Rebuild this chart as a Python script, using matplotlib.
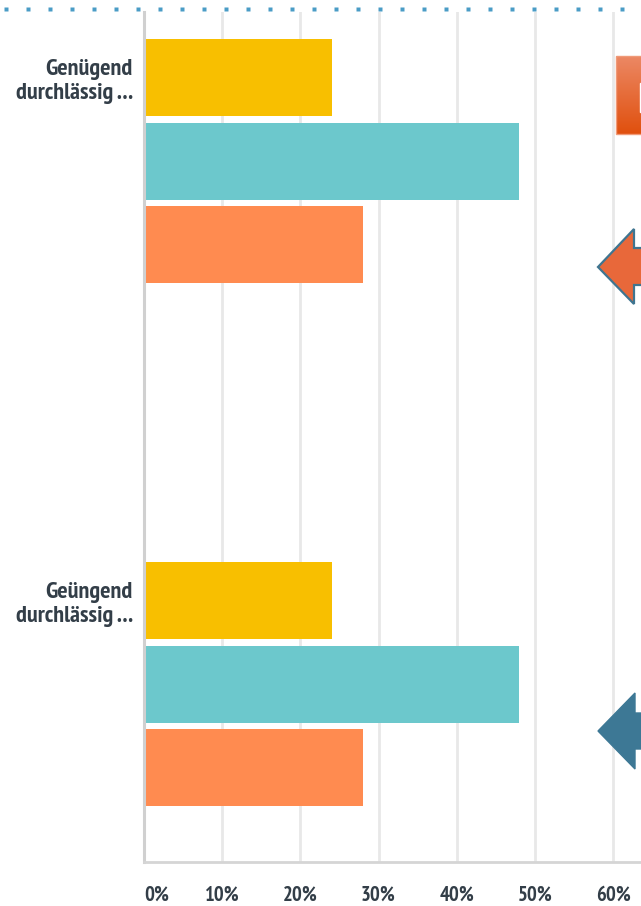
import numpy as np
import matplotlib
matplotlib.use("Agg")
import matplotlib.pyplot as plt
from matplotlib import font_manager
from matplotlib.patches import Polygon, Rectangle

# data
categories = ["Genügend\ndurchlässig ...", "Geüngend\ndurchlässig ..."]
yellow_vals = [24, 24]
teal_vals = [48, 48]
orange_vals = [28, 28]
tick_values = [0, 10, 20, 30, 40, 50, 60]
tick_labels = ["0%", "10%", "20%", "30%", "40%", "50%", "60%"]

series_colors = ["#F8BF00", "#6CC8CC", "#FF8B50"]
text_color = "#333E48"

# look for a narrow bold face, the original uses a condensed font
fonts = font_manager.fontManager.ttflist
bold = [f for f in fonts if f.weight in ("bold", 700)]
narrow = [f for f in bold if "Narrow" in f.name or "Narrow" in f.fname]
narrow += [f for f in bold if "Condensed" in f.name or "Condensed" in f.fname
           or f.stretch in ("condensed", "semi-condensed")]
if narrow:
    font = dict(family=[narrow[0].name, "DejaVu Sans"], stretch=narrow[0].stretch)
else:
    font = dict(family=["Liberation Sans", "DejaVu Sans"])

W, H = 641, 906
fig = plt.figure(figsize=(W / 100, H / 100), dpi=100)
fig.patch.set_facecolor("white")

ax = fig.add_axes([144 / W, (H - 862) / H, (W - 144) / W, 850 / H])

step = 0.16
bar_h = 0.147
pos = np.arange(len(categories))
for k, (vals, col) in enumerate(zip([yellow_vals, teal_vals, orange_vals], series_colors)):
    ax.barh(pos + k * step, vals, height=bar_h, color=col, zorder=2)

ax.set_xlim(0, 63.58)
ax.set_ylim(1.5, -0.125)
ax.set_xticks(tick_values)
ax.set_xticklabels(tick_labels, fontsize=15, fontweight="bold", color=text_color, **font)
ax.xaxis.get_majorticklabels()[0].set_ha("left")
ax.set_yticks(pos)
ax.set_yticklabels(categories, fontsize=15, fontweight="bold", color=text_color,
                   linespacing=1.2, **font)
ax.tick_params(axis="both", length=0)
ax.tick_params(axis="x", pad=17)
ax.tick_params(axis="y", pad=8)

# size the text so it is about as wide as in the original
fig.canvas.draw()
r = fig.canvas.get_renderer()
lab_w = max(t.get_window_extent(r).width for t in ax.get_yticklabels())
tick_w = ax.get_xticklabels()[1].get_window_extent(r).width
lab_size = min(18, 15 * 117 / lab_w)
tick_size = min(16, 15 * 35 / tick_w)
for t in ax.get_yticklabels():
    t.set_fontsize(lab_size)
for t in ax.get_xticklabels():
    t.set_fontsize(tick_size)

ax.grid(axis="x", color="#E8E8E8", linewidth=2, zorder=0)
ax.set_axisbelow(True)
for side in ["top", "right"]:
    ax.spines[side].set_visible(False)
ax.spines["left"].set_color("#D0D0D0")
ax.spines["left"].set_linewidth(2.2)
ax.spines["bottom"].set_color("#D5D5D5")
ax.spines["bottom"].set_linewidth(2)

# overlay in pixel units for the decorations
ov = fig.add_axes([0, 0, 1, 1], zorder=10)
ov.axis("off")

# dotted line on top
dots_x = np.arange(6, W, 22)
ov.plot(dots_x, np.full(len(dots_x), 9.3), ls="none", marker="s", ms=2.2,
        color="#4A9CC6", mec="none")

# orange box with gradient
grad_top = np.array(matplotlib.colors.to_rgb("#EC8864"))
grad_bot = np.array(matplotlib.colors.to_rgb("#E0500E"))
t = np.linspace(0, 1, 64)[:, None, None]
grad = grad_top * (1 - t) + grad_bot * t
ov.imshow(grad, extent=(616, 660, 134, 56), origin="upper", aspect="auto", zorder=3)
ov.add_patch(Rectangle((616, 56), 44, 78, fill=False, edgecolor="#F09A78", lw=1, zorder=4))
ov.add_patch(Rectangle((639.5, 83), 3, 29, color="white", zorder=5))

# arrows
orange_arrow = [(598, 267), (634, 229), (634, 248), (660, 248), (660, 285),
                (634, 285), (634, 304)]
ov.add_patch(Polygon(orange_arrow, closed=True, facecolor="#E8683A",
                     edgecolor="#3F7590", lw=1.6, zorder=5))
blue_arrow = [(598, 731), (635, 693), (635, 713), (660, 713), (660, 749),
              (635, 749), (635, 769)]
ov.add_patch(Polygon(blue_arrow, closed=True, facecolor="#3D7895",
                     edgecolor="#3D7895", lw=1, zorder=5))

ov.set_xlim(0, W)
ov.set_ylim(H, 0)

fig.savefig("out.png", dpi=100, facecolor="white")
